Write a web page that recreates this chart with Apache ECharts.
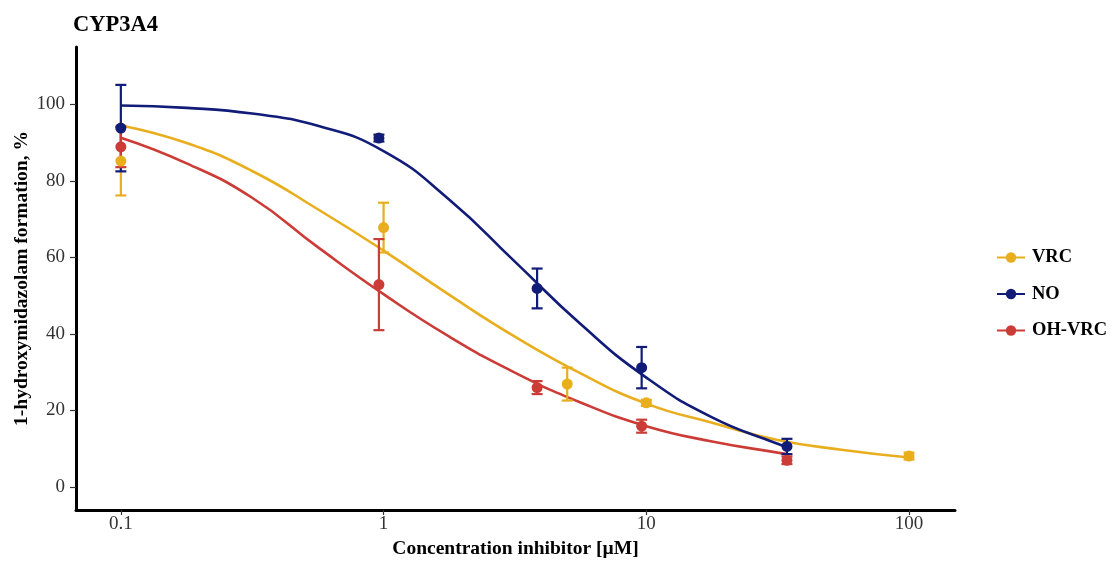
<!DOCTYPE html>
<html><head><meta charset="utf-8">
<script src="https://cdn.jsdelivr.net/npm/echarts@6/dist/echarts.min.js"></script>
<style>html,body{margin:0;padding:0;background:#fff}#c{width:1114px;height:561px}</style>
</head><body><div id="c"></div><script>
const seriesNames = ['VRC', 'NO', 'OH-VRC'];
const seriesColors = ['#E8AE1E', '#111B78', '#CC3C37'];
const xTicks = [0.1, 1, 10, 100];
const yTicks = [0, 20, 40, 60, 80, 100];

// measured points (mean, error)
const vrcConc = [0.1, 1, 5, 10, 100];
const vrcMean = [85.2, 67.8, 26.9, 22.0, 8.1];
const vrcErr  = [9.0, 6.5, 4.3, 0.8, 0.9];
const noConc  = [0.1, 0.96, 3.84, 9.6, 34.3];
const noMean  = [93.8, 91.2, 51.9, 31.2, 10.6];
const noErr   = [11.3, 0.9, 5.2, 5.4, 2.0];
const ohConc  = [0.1, 0.96, 3.84, 9.6, 34.3];
const ohMean  = [88.9, 52.9, 26.0, 15.9, 7.0];
const ohErr   = [5.3, 11.9, 1.7, 1.7, 1.0];

// fitted curves
const vrcCurveX = [0.1, 0.178, 0.316, 0.562, 1, 1.78, 3.16, 5.62, 10, 17.8, 31.6, 56.2, 100];
const vrcCurveY = [94.5, 89.9, 82.6, 72.6, 61.8, 50.2, 39.3, 29.7, 21.8, 16.8, 12.3, 9.7, 7.7];
const noCurveX  = [0.1, 0.178, 0.316, 0.562, 1, 1.78, 3.16, 5.62, 10, 17.8, 31.6, 34.3];
const noCurveY  = [99.7, 99.1, 97.6, 94.4, 87.8, 75.1, 58.9, 42.6, 28.6, 18.2, 11.3, 10.5];
const ohCurveX  = [0.1, 0.178, 0.316, 0.562, 1, 1.78, 3.16, 5.62, 10, 17.8, 31.6, 34.3];
const ohCurveY  = [91.3, 84.6, 75.6, 62.7, 50.4, 39.3, 29.9, 22.1, 15.9, 11.9, 9.0, 8.6];

const groups = [
  {conc: vrcConc, mean: vrcMean, err: vrcErr, cx: vrcCurveX, cy: vrcCurveY},
  {conc: noConc, mean: noMean, err: noErr, cx: noCurveX, cy: noCurveY},
  {conc: ohConc, mean: ohMean, err: ohErr, cx: ohCurveX, cy: ohCurveY}
];

const FONT = '"Liberation Serif", "Times New Roman", serif';

function makeErrRender(color) {
  return function (params, api) {
    const x = api.value(0), lo = api.value(1), hi = api.value(2);
    const p1 = api.coord([x, hi]), p2 = api.coord([x, lo]);
    const w = 5.5;
    const style = {stroke: color, lineWidth: 2.2};
    return {type: 'group', children: [
      {type: 'line', shape: {x1: p1[0], y1: p1[1], x2: p2[0], y2: p2[1]}, style: style},
      {type: 'line', shape: {x1: p1[0] - w, y1: p1[1], x2: p1[0] + w, y2: p1[1]}, style: style},
      {type: 'line', shape: {x1: p2[0] - w, y1: p2[1], x2: p2[0] + w, y2: p2[1]}, style: style}
    ]};
  };
}

const series = [];
groups.forEach((g, i) => {
  series.push({
    name: seriesNames[i], type: 'line', smooth: 0.5,
    symbol: 'circle', symbolSize: 11, showSymbol: false,
    lineStyle: {width: 2.6, color: seriesColors[i]},
    itemStyle: {color: seriesColors[i]},
    data: g.cx.map((x, k) => [x, g.cy[k]]), z: 2, silent: true
  });
});
groups.forEach((g, i) => {
  series.push({
    name: seriesNames[i], type: 'custom',
    renderItem: makeErrRender(seriesColors[i]),
    itemStyle: {color: seriesColors[i]},
    encode: {x: 0, y: [1, 2]},
    data: g.conc.map((x, k) => [x, g.mean[k] - g.err[k], g.mean[k] + g.err[k]]), z: 3
  });
  series.push({
    name: seriesNames[i], type: 'scatter', symbol: 'circle', symbolSize: 11,
    itemStyle: {color: seriesColors[i], opacity: 1},
    data: g.conc.map((x, k) => [x, g.mean[k]]), z: 4
  });
});

const chart = echarts.init(document.getElementById('c'), null, {renderer: 'canvas'});
chart.setOption({
  animation: false,
  backgroundColor: '#fff',
  title: {text: 'CYP3A4', left: 68, top: 9,
    textStyle: {fontFamily: FONT, fontWeight: 'bold', fontSize: 22.5, color: '#000'}},
  legend: {
    data: seriesNames, orient: 'vertical', left: 991, top: 242, itemGap: 15.5,
    itemWidth: 28, itemHeight: 13,
    textStyle: {fontFamily: FONT, fontWeight: 'bold', fontSize: 18.5, color: '#000', padding: [0, 0, 0, 2], lineHeight: 21}
  },
  grid: {left: 76, right: 159, top: 47, bottom: 51, containLabel: false, outerBoundsMode: 'none'},
  xAxis: {
    type: 'log', logBase: 10, min: 0.0675, max: 149.6,
    name: 'Concentration inhibitor [\u00B5M]', nameLocation: 'middle', nameGap: 29, nameMoveOverlap: false,
    nameTextStyle: {fontFamily: FONT, fontWeight: 'bold', fontSize: 19.5, color: '#000'},
    axisLine: {show: true, onZero: false, lineStyle: {color: '#000', width: 3}},
    axisTick: {show: true, length: 5, customValues: xTicks, lineStyle: {color: '#333', width: 1.2}},
    axisLabel: {customValues: xTicks, margin: 5, fontFamily: FONT, fontSize: 19, color: '#333',
      formatter: v => String(v)},
    splitLine: {show: false}, minorTick: {show: false}
  },
  yAxis: {
    type: 'value', min: -6, max: 115,
    name: '1-hydroxymidazolam formation, %', nameLocation: 'middle', nameGap: 44, nameMoveOverlap: false,
    nameTextStyle: {fontFamily: FONT, fontWeight: 'bold', fontSize: 19.5, color: '#000'},
    axisLine: {show: true, onZero: false, lineStyle: {color: '#000', width: 3}},
    axisTick: {show: true, length: 6, customValues: yTicks, lineStyle: {color: '#333', width: 1.2}},
    axisLabel: {customValues: yTicks, margin: 11, fontFamily: FONT, fontSize: 19, color: '#333'},
    splitLine: {show: false}
  },
  series: series
});
</script></body></html>
